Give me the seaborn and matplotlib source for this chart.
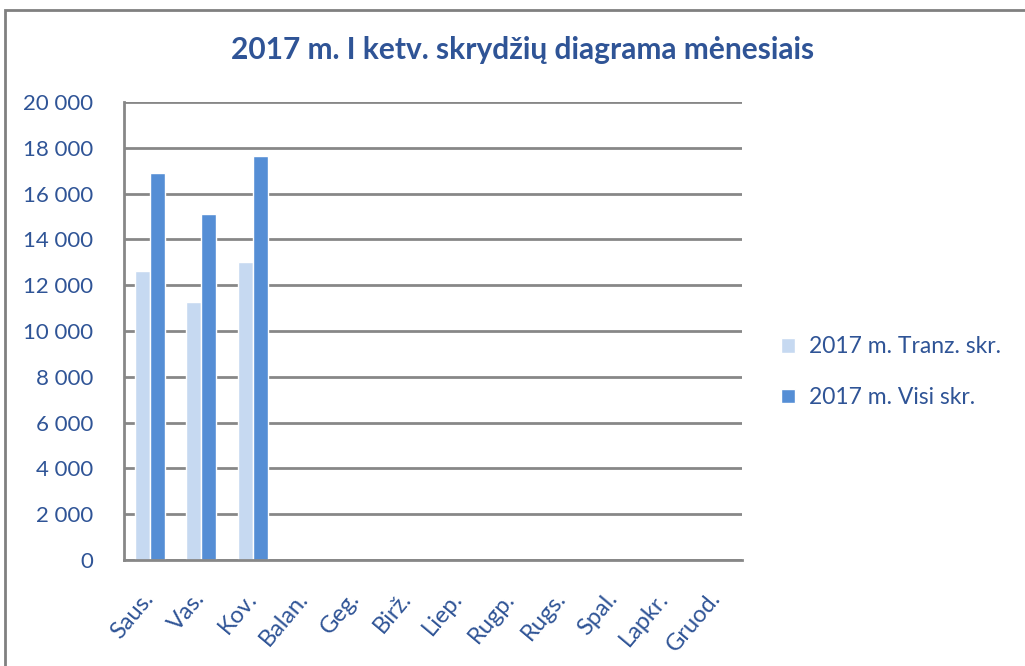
import pandas as pd
import numpy as np
import seaborn as sns
import matplotlib.pyplot as plt
import matplotlib.transforms as mtransforms
from matplotlib.patches import Rectangle
from matplotlib.ticker import FuncFormatter

# Datos
menesiai = ['Saus.', 'Vas.', 'Kov.', 'Balan.', 'Geg.', 'Birž.', 'Liep.',
            'Rugp.', 'Rugs.', 'Spal.', 'Lapkr.', 'Gruod.']
tranz = [12630, 11270, 13030, np.nan, np.nan, np.nan, np.nan, np.nan, np.nan, np.nan, np.nan, np.nan]
visi = [16890, 15110, 17640, np.nan, np.nan, np.nan, np.nan, np.nan, np.nan, np.nan, np.nan, np.nan]
serijos = ['2017 m. Tranz. skr.', '2017 m. Visi skr.']
spalvos = ['#C6D9F1', '#558ED5']

df = pd.DataFrame({'Menuo': menesiai * 2,
                   'Reiksme': tranz + visi,
                   'Serija': [serijos[0]] * 12 + [serijos[1]] * 12})

sns.set_style('white')
plt.rcParams['font.family'] = ['Lato', 'DejaVu Sans']
tekstas = '#2F5496'

fig = plt.figure(figsize=(10.25, 6.66), dpi=100)
ax = fig.add_axes([0.121, 0.159, 0.603, 0.688])

sns.barplot(data=df, x='Menuo', y='Reiksme', hue='Serija', order=menesiai,
            hue_order=serijos, palette=spalvos, width=0.58, gap=0,
            saturation=1, ax=ax)

ax.set_ylim(0, 20000)
ax.set_yticks(range(0, 20001, 2000))
ax.yaxis.set_major_formatter(FuncFormatter(lambda v, p: f'{int(v):,}'.replace(',', ' ')))
ax.grid(axis='y', color='#878787', linewidth=2)
ax.set_axisbelow(True)
for s in ['top', 'right']:
    ax.spines[s].set_visible(False)
for s in ['left', 'bottom']:
    ax.spines[s].set_color('#878787')
    ax.spines[s].set_linewidth(2)
ax.set_xlabel('')
ax.set_ylabel('')
ax.tick_params(axis='y', colors=tekstas, labelsize=16, pad=22, length=0)
ax.tick_params(axis='x', colors=tekstas, labelsize=17, length=0, pad=20)
# etiketes truputi i kaire
poslinkis = mtransforms.ScaledTranslation(-0.08, 0, fig.dpi_scale_trans)
for lbl in ax.get_xticklabels():
    lbl.set_rotation(50)
    lbl.set_ha('right')
    lbl.set_rotation_mode('anchor')
    lbl.set_transform(lbl.get_transform() + poslinkis)

leg = ax.legend(loc='center left', bbox_to_anchor=(1.03, 0.41), frameon=False,
                fontsize=16.5, handlelength=0.6, handleheight=0.6,
                handletextpad=0.6, labelspacing=1.3)
for t in leg.get_texts():
    t.set_color(tekstas)

fig.text(0.51, 0.925, '2017 m. I ketv. skrydžių diagrama mėnesiais',
         ha='center', va='center', fontsize=21.5, fontweight='bold', color='#2F5496')

fig.patches.append(Rectangle((0.005, -0.1), 1.1, 1.085, transform=fig.transFigure,
                             fill=False, edgecolor='#808080', linewidth=2))

fig.savefig('out.png', dpi=100)
